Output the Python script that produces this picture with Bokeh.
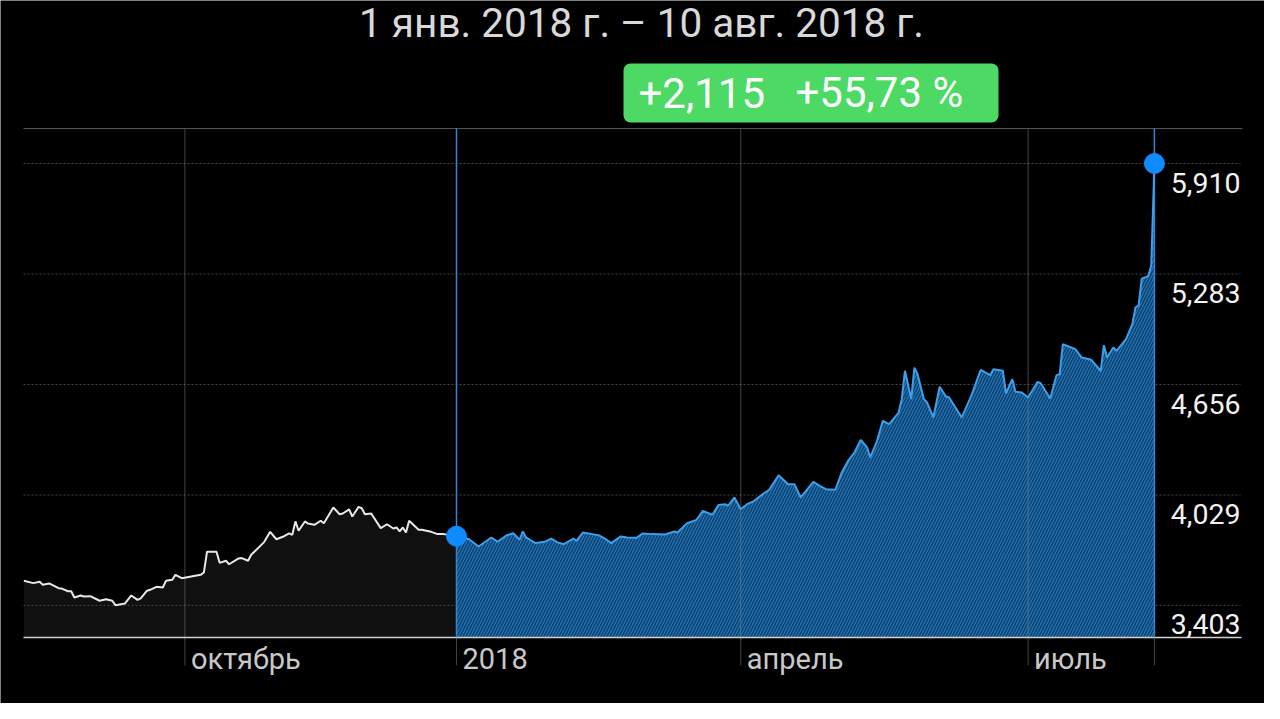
from bokeh.plotting import figure
from bokeh.models import Range1d
from bokeh.core.properties import value
from bokeh.embed import file_html
from bokeh.resources import INLINE

# ---------------- data (x = days since 1 Jan 2018) ----------------
before_days = [-137, -134, -132, -131, -129, -126, -125, -123, -122, -121,
               -119, -118, -116, -113, -111, -109, -108, -105, -103, -101,
               -100, -98, -97, -95, -93, -92, -90, -89, -87, -84,
               -81, -80, -79, -76, -75, -73, -72, -69, -68, -66,
               -65, -61, -59, -58, -57, -55, -53, -52, -51, -50,
               -48, -47, -45, -43, -42, -39, -37, -36, -34, -33,
               -31, -30, -29, -27, -24, -22, -20, -19, -18, -17,
               -16, -15, -12, -11, -8, -6, -4, 0]
before_vals = [3542, 3529, 3537, 3520, 3527, 3500, 3498, 3483, 3483, 3447,
               3459, 3453, 3455, 3429, 3438, 3429, 3404, 3413, 3459, 3434,
               3442, 3486, 3491, 3508, 3504, 3542, 3548, 3576, 3557, 3567,
               3576, 3589, 3707, 3707, 3644, 3656, 3636, 3669, 3671, 3656,
               3690, 3760, 3820, 3798, 3778, 3792, 3811, 3803, 3879, 3826,
               3879, 3867, 3860, 3883, 3869, 3958, 3920, 3924, 3947, 3907,
               3962, 3954, 3920, 3924, 3841, 3863, 3839, 3845, 3822, 3845,
               3816, 3883, 3832, 3832, 3820, 3807, 3807, 3795]

period_days = [0, 4, 7, 11, 13, 16, 18, 20, 21, 22,
               25, 28, 30, 32, 34, 37, 38, 40, 43, 45,
               47, 49, 52, 54, 57, 59, 62, 66, 69, 70,
               73, 76, 78, 81, 83, 85, 86, 88, 90, 92,
               94, 97, 99, 102, 105, 107, 109, 113, 115, 117,
               120, 122, 124, 126, 128, 130, 131, 133, 135, 137,
               140, 141, 142, 144, 145, 146, 148, 149, 151, 153,
               155, 156, 160, 163, 166, 169, 170, 173, 174, 176,
               177, 179, 181, 184, 185, 188, 190, 191, 192, 196,
               198, 201, 204, 205, 206, 208, 209, 212, 214, 215,
               216, 217, 219, 220, 221]
period_vals = [3795, 3778, 3737, 3788, 3764, 3801, 3812, 3775, 3822, 3788,
               3756, 3764, 3782, 3760, 3750, 3782, 3769, 3816, 3807, 3801,
               3782, 3756, 3794, 3788, 3786, 3811, 3807, 3805, 3822, 3816,
               3869, 3888, 3939, 3917, 3973, 3977, 3968, 4015, 3948, 3977,
               3992, 4034, 4059, 4141, 4090, 4090, 4015, 4104, 4081, 4062,
               4059, 4157, 4223, 4270, 4342, 4299, 4242, 4327, 4450, 4431,
               4497, 4573, 4734, 4573, 4752, 4714, 4573, 4554, 4469, 4643,
               4588, 4582, 4469, 4592, 4739, 4709, 4743, 4734, 4605, 4686,
               4615, 4611, 4582, 4671, 4663, 4577, 4709, 4714, 4885, 4856,
               4809, 4796, 4734, 4879, 4809, 4866, 4847, 4913, 4998, 5093,
               5103, 5257, 5270, 5331, 5910]

x_tick_days = [-86, 0, 90, 181]
x_tick_labels = ["октябрь", "2018", "апрель", "июль"]
y_ticks = [3403, 4029, 4656, 5283, 5910]
y_tick_labels = ["3,403", "4,029", "4,656", "5,283", "5,910"]

title_text = "1 янв. 2018 г. – 10 авг. 2018 г."
change_abs = "+2,115"
change_pct = "+55,73 %"

# ---------------- layout (figure pixels) ----------------
W, H = 1264, 703
PX_PER_DAY = 3.158
X_ZERO = 456            # px of day 0
VAL_PER_PX = 627 / 110.5
Y_REF_PX = 163          # px of top y tick
Y_REF_VAL = y_ticks[-1]
FL, FR, FT, FB, TICK_END = 23, 1242, 128, 637, 665


def xd(px):
    return (px - X_ZERO) / PX_PER_DAY


def yv(py):
    return Y_REF_VAL - (py - Y_REF_PX) * VAL_PER_PX


FONT = value("Roboto")

p = figure(width=W, height=H, x_range=Range1d(xd(0), xd(W)),
           y_range=Range1d(yv(H), yv(0)), x_axis_type=None, y_axis_type=None,
           output_backend="svg", toolbar_location=None, min_border=0,
           background_fill_color="black", border_fill_color="black",
           outline_line_color=None)
p.grid.visible = False

base = yv(FB)

# area before the period
p.varea(x=before_days, y1=[base] * len(before_days), y2=before_vals,
        fill_color="#101010")

# horizontal dotted grid
p.segment(x0=[xd(FL)] * len(y_ticks), x1=[xd(FR - 2)] * len(y_ticks),
          y0=y_ticks, y1=y_ticks, line_color="#4a4a4a", line_width=1,
          line_dash="2 2")

# area of the period (hatched blue)
p.varea(x=period_days, y1=[base] * len(period_days), y2=period_vals,
        fill_color="#0b4677", hatch_pattern="/", hatch_color="#2c7cbd",
        hatch_scale=6, hatch_weight=1)

# vertical grid lines
vx = x_tick_days + [period_days[-1]]
p.segment(x0=vx, x1=vx, y0=[yv(FT)] * len(vx), y1=[yv(TICK_END)] * len(vx),
          line_color="#7a7a7a", line_alpha=0.55, line_width=1)

# frame top and bottom axis line
p.segment(x0=[xd(FL)], x1=[xd(FR)], y0=[yv(FT)], y1=[yv(FT)],
          line_color="#555555", line_width=1)
p.segment(x0=[xd(FL)], x1=[xd(FR - 1)], y0=[base], y1=[base],
          line_color="#d2d2d2", line_width=1.5)

# blue markers of the selected period
sel = [period_days[0], period_days[-1]]
p.segment(x0=sel, x1=sel, y0=[yv(FT)] * 2, y1=[base] * 2,
          line_color="#2f86d8", line_width=1.5)

p.line(before_days, before_vals, line_color="#e8e8e8", line_width=2)
p.line(period_days, period_vals, line_color="#3d9fea", line_width=2)
p.scatter(sel, [period_vals[0], period_vals[-1]], size=20,
          fill_color="#0f8bff", line_color="#0f8bff")

# y tick labels (inside, right)
p.text(x=[xd(1240)] * len(y_ticks),
       y=[v - 19 * VAL_PER_PX for v in y_ticks], text=y_tick_labels,
       text_align="right", text_baseline="middle", text_font=FONT,
       text_font_size="28.5px", text_color="#f2f2f2")

# x tick labels
p.text(x=[d + 6 / PX_PER_DAY for d in x_tick_days],
       y=[yv(658)] * len(x_tick_days), text=x_tick_labels,
       text_align="left", text_baseline="middle", text_font=FONT,
       text_font_size="29px", text_color="#c8c8c8")

# title
p.text(x=[xd(641)], y=[yv(22)], text=[title_text], text_align="center",
       text_baseline="middle", text_font=FONT, text_font_size="40.5px",
       text_color="#d9d9d9")

# badge
try:
    p.quad(left=[xd(623)], right=[xd(998)], top=[yv(63)], bottom=[yv(122)],
           fill_color="#4cd964", line_color=None, border_radius=7)
except Exception:
    p.quad(left=[xd(623)], right=[xd(998)], top=[yv(63)], bottom=[yv(122)],
           fill_color="#4cd964", line_color=None)
p.text(x=[xd(638), xd(795)], y=[yv(92)] * 2, text=[change_abs, change_pct],
       text_align="left", text_baseline="middle", text_font=FONT,
       text_font_size="42px", text_color="#ffffff")

html = file_html(p, INLINE)
html = html.replace("<body>", '<body style="background-color:#000000;">', 1)
open("out.html", "w").write(html)
